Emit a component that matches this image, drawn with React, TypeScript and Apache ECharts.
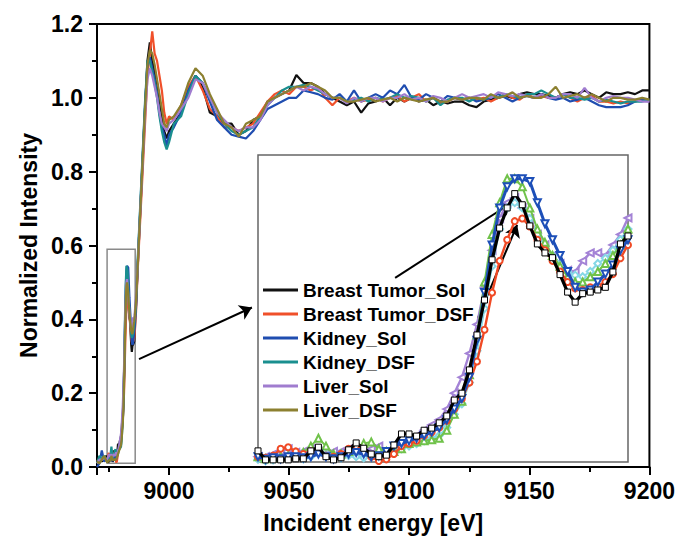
import React, { useEffect, useRef } from "react";
import * as echarts from "echarts";

const FONT = "Liberation Sans, Arial, sans-serif";

const NAMES = ["Breast Tumor_Sol", "Breast Tumor_DSF", "Kidney_Sol", "Kidney_DSF", "Liver_Sol", "Liver_DSF"];
const MAIN_COLORS = ["#111111", "#f0502a", "#1f4db0", "#1a8f8f", "#a07ccf", "#8c8030"];
const INSET_COLORS = ["#000000", "#f04a25", "#1d4fb8", "#70c24a", "#a483d6", "#86d8e6"];

// pre-edge start (eV)
const PRE_E = [8970, 8971, 8972, 8973];
const PRE_BT_SOL = [0.01, 0.02, 0.015, 0.02];
const PRE_BT_DSF = [0.02, 0.015, 0.02, 0.02];
const PRE_K_SOL = [0.0, 0.01, 0.045, 0.015];
const PRE_K_DSF = [0.01, 0.03, 0.02, 0.03];
const PRE_L_SOL = [0.01, 0.02, 0.02, 0.025];
const PRE_L_DSF = [0.015, 0.01, 0.02, 0.03];

// inset (pre-edge feature) energies
const INSET_E = [
  8974, 8974.25, 8974.5, 8974.75, 8975, 8975.25, 8975.5, 8975.75, 8976, 8976.25,
  8976.5, 8976.75, 8977, 8977.25, 8977.5, 8977.75, 8978, 8978.25, 8978.5, 8978.75,
  8979, 8979.25, 8979.5, 8979.75, 8980, 8980.25, 8980.5, 8980.75, 8981, 8981.25,
  8981.5, 8981.75, 8982, 8982.25, 8982.5, 8982.75, 8983, 8983.25, 8983.5, 8983.75,
  8984, 8984.25, 8984.5, 8984.75, 8985, 8985.25, 8985.5, 8985.75, 8986, 8986.25,
];
const IN_BT_SOL = [
  0.031, 0.014, 0.014, 0.014, 0.014, 0.016, 0.016, 0.031, 0.038, 0.02,
  0.014, 0.018, 0.033, 0.046, 0.036, 0.025, 0.02, 0.023, 0.042, 0.063,
  0.063, 0.059, 0.07, 0.074, 0.084, 0.097, 0.127, 0.14, 0.184, 0.25,
  0.316, 0.392, 0.452, 0.49, 0.517, 0.496, 0.456, 0.422, 0.405, 0.396,
  0.364, 0.331, 0.312, 0.328, 0.331, 0.335, 0.34, 0.369, 0.422, 0.437,
];
const IN_BT_DSF = [
  0.02, 0.018, 0.022, 0.035, 0.038, 0.03, 0.025, 0.03, 0.028, 0.022,
  0.02, 0.025, 0.035, 0.04, 0.03, 0.02, 0.012, 0.015, 0.025, 0.04,
  0.045, 0.05, 0.06, 0.066, 0.075, 0.088, 0.11, 0.13, 0.16, 0.2,
  0.26, 0.33, 0.39, 0.43, 0.465, 0.47, 0.455, 0.43, 0.41, 0.39,
  0.37, 0.35, 0.338, 0.335, 0.34, 0.342, 0.35, 0.365, 0.395, 0.42,
];
const IN_K_SOL = [
  0.02, 0.015, 0.018, 0.016, 0.02, 0.02, 0.018, 0.02, 0.025, 0.02,
  0.016, 0.02, 0.025, 0.028, 0.025, 0.02, 0.022, 0.03, 0.04, 0.045,
  0.05, 0.055, 0.06, 0.067, 0.075, 0.09, 0.11, 0.13, 0.17, 0.24,
  0.33, 0.42, 0.49, 0.53, 0.545, 0.545, 0.54, 0.5, 0.46, 0.43,
  0.4, 0.37, 0.34, 0.331, 0.335, 0.35, 0.365, 0.382, 0.41, 0.43,
];
const IN_K_DSF = [
  0.02, 0.016, 0.018, 0.02, 0.022, 0.025, 0.028, 0.04, 0.055, 0.04,
  0.025, 0.025, 0.03, 0.035, 0.045, 0.048, 0.035, 0.03, 0.03, 0.035,
  0.045, 0.048, 0.05, 0.052, 0.055, 0.07, 0.1, 0.125, 0.175, 0.25,
  0.35, 0.44, 0.5, 0.545, 0.545, 0.53, 0.49, 0.45, 0.425, 0.4,
  0.38, 0.36, 0.35, 0.35, 0.36, 0.37, 0.385, 0.4, 0.42, 0.45,
];
const IN_L_SOL = [
  0.02, 0.02, 0.025, 0.03, 0.035, 0.028, 0.03, 0.035, 0.03, 0.025,
  0.03, 0.03, 0.035, 0.03, 0.03, 0.035, 0.04, 0.03, 0.035, 0.045,
  0.05, 0.06, 0.07, 0.08, 0.09, 0.11, 0.14, 0.17, 0.215, 0.27,
  0.34, 0.41, 0.47, 0.5, 0.509, 0.49, 0.47, 0.44, 0.42, 0.4,
  0.385, 0.372, 0.369, 0.39, 0.405, 0.405, 0.4, 0.42, 0.44, 0.471,
];
const IN_L_DSF = [
  0.015, 0.012, 0.014, 0.016, 0.018, 0.02, 0.016, 0.02, 0.03, 0.025,
  0.02, 0.018, 0.022, 0.02, 0.018, 0.02, 0.022, 0.025, 0.03, 0.035,
  0.04, 0.045, 0.05, 0.055, 0.06, 0.075, 0.1, 0.12, 0.16, 0.22,
  0.3, 0.38, 0.45, 0.49, 0.5, 0.49, 0.47, 0.44, 0.42, 0.4,
  0.385, 0.37, 0.363, 0.36, 0.37, 0.385, 0.395, 0.41, 0.43, 0.45,
];

// edge and EXAFS region energies
const MAIN_E = [
  8987, 8988, 8989, 8990, 8991, 8992, 8993, 8994, 8995, 8996, 8997, 8998, 8999, 9000,
  9002, 9005, 9008, 9011, 9014, 9017, 9020, 9023, 9026, 9029,
  9032, 9035, 9038, 9041, 9044, 9047, 9050, 9053, 9056, 9059,
  9062, 9065, 9068, 9071, 9074, 9077, 9080, 9083, 9086, 9089,
  9092, 9095, 9098, 9101, 9104, 9107, 9110, 9113, 9116, 9119,
  9122, 9125, 9128, 9131, 9134, 9137, 9140, 9143, 9146, 9149,
  9152, 9155, 9158, 9161, 9164, 9167, 9170, 9173, 9176, 9179,
  9182, 9185, 9188, 9191, 9194, 9197, 9200,
];
const M_BT_SOL = [
  0.55, 0.69, 0.83, 0.97, 1.1, 1.15, 1.1, 1.07, 1.04, 1.0, 0.95, 0.91, 0.89, 0.91,
  0.93, 0.96, 1.02, 1.06, 1.03, 0.96, 0.95, 0.93, 0.93, 0.9,
  0.91, 0.94, 0.95, 0.99, 1.0, 1.01, 1.02, 1.062, 1.04, 1.04,
  1.03, 1.01, 1.0, 0.99, 0.98, 0.99, 0.96, 0.985, 0.99, 1.0,
  0.98, 1.0, 0.99, 1.0, 0.99, 0.995, 0.98, 0.99, 0.985, 0.99,
  0.99, 0.98, 0.975, 0.99, 0.995, 1.0, 1.005, 1.0, 1.01, 1.015,
  1.01, 1.01, 1.005, 1.0, 1.01, 1.015, 1.01, 1.02, 1.01, 1.0,
  1.015, 1.01, 1.01, 1.015, 1.01, 1.02, 1.02,
];
const M_BT_DSF = [
  0.54, 0.67, 0.8, 0.93, 1.06, 1.12, 1.18, 1.12, 1.1, 1.06, 1.02, 0.96, 0.93, 0.95,
  0.94, 0.98, 1.03, 1.06, 1.02, 0.97, 0.95, 0.92, 0.92, 0.91,
  0.92, 0.93, 0.96, 0.99, 1.01, 1.02, 1.01, 1.03, 1.03, 1.02,
  1.03, 1.0, 0.98, 1.0, 0.99, 1.0, 0.99, 0.995, 1.0, 0.99,
  1.0, 1.005, 0.99, 1.0, 1.01, 0.99, 1.0, 0.985, 0.99, 1.0,
  0.995, 1.0, 0.995, 1.0, 0.99, 1.0, 1.01, 1.0, 0.995, 1.01,
  1.0, 1.005, 1.0, 1.0, 1.01, 1.0, 0.99, 1.0, 1.005, 0.99,
  0.99, 0.985, 0.99, 0.985, 0.99, 0.995, 0.99,
];
const M_K_SOL = [
  0.56, 0.7, 0.84, 0.98, 1.09, 1.11, 1.08, 1.05, 1.01, 0.96, 0.92, 0.9, 0.87, 0.9,
  0.92, 0.96, 1.02, 1.06, 1.04, 0.99, 0.94, 0.92, 0.9, 0.895,
  0.89, 0.91, 0.94, 0.97, 0.98, 0.99, 1.0, 1.0, 1.02, 1.015,
  1.01, 1.0, 0.995, 1.01, 0.99, 1.02, 0.99, 1.0, 1.01, 1.0,
  1.02, 1.01, 1.035, 1.0, 0.995, 1.01, 1.0, 0.99, 1.005, 1.0,
  0.995, 1.0, 0.99, 0.995, 1.0, 1.01, 1.0, 0.99, 1.0, 1.005,
  1.0, 1.01, 1.0, 0.995, 1.0, 0.99, 0.995, 1.0, 0.99, 0.98,
  0.975, 0.975, 0.975, 0.98, 0.99, 0.995, 0.99,
];
const M_K_DSF = [
  0.57, 0.71, 0.85, 0.99, 1.1, 1.1, 1.07, 1.04, 1.0, 0.95, 0.91, 0.88, 0.86, 0.88,
  0.93, 0.95, 1.01, 1.06, 1.04, 1.0, 0.96, 0.93, 0.91, 0.9,
  0.91, 0.92, 0.95, 0.98, 1.0, 1.02, 1.03, 1.03, 1.035, 1.03,
  1.02, 1.01, 1.0, 1.0, 0.99, 0.995, 1.0, 0.99, 1.0, 0.995,
  1.0, 1.01, 1.0, 1.005, 1.0, 0.99, 1.0, 0.98, 0.995, 1.0,
  1.0, 0.99, 1.0, 0.995, 1.005, 1.0, 1.01, 1.005, 1.0, 1.01,
  1.01, 1.02, 1.01, 1.0, 1.01, 1.0, 1.0, 0.995, 1.0, 0.99,
  0.995, 0.99, 0.985, 0.99, 0.99, 0.99, 0.995,
];
const M_L_SOL = [
  0.55, 0.69, 0.82, 0.95, 1.05, 1.08, 1.06, 1.03, 1.0, 0.96, 0.93, 0.92, 0.91, 0.93,
  0.94, 0.97, 1.0, 1.05, 1.04, 1.0, 0.96, 0.94, 0.92, 0.91,
  0.92, 0.92, 0.94, 0.98, 1.0, 1.01, 1.02, 1.03, 1.02, 1.03,
  1.025, 1.01, 1.0, 1.0, 0.985, 1.0, 0.99, 1.0, 1.0, 0.99,
  1.0, 1.0, 1.01, 0.995, 1.0, 0.99, 1.005, 1.0, 0.99, 1.0,
  1.01, 1.0, 1.005, 1.01, 1.0, 1.015, 1.01, 1.005, 1.01, 1.005,
  1.0, 1.01, 1.0, 1.0, 1.01, 1.01, 1.0, 1.027, 1.0, 0.99,
  1.0, 1.005, 1.0, 1.0, 0.995, 0.99, 0.99,
];
const M_L_DSF = [
  0.55, 0.69, 0.83, 0.97, 1.09, 1.13, 1.12, 1.09, 1.05, 1.01, 0.97, 0.93, 0.92, 0.94,
  0.95, 0.98, 1.04, 1.08, 1.06, 1.01, 0.97, 0.93, 0.92, 0.895,
  0.93, 0.94, 0.95, 0.99, 1.0, 1.01, 1.02, 1.03, 1.03, 1.04,
  1.03, 1.02, 1.0, 1.0, 0.99, 0.99, 0.995, 1.0, 0.99, 0.995,
  1.0, 0.99, 1.0, 0.995, 0.99, 0.995, 1.0, 0.99, 0.99, 1.0,
  0.995, 1.0, 1.0, 0.995, 1.01, 1.0, 1.005, 1.015, 1.0, 1.005,
  1.0, 1.0, 1.01, 1.03, 1.0, 1.005, 1.01, 1.0, 1.01, 1.0,
  0.99, 1.0, 1.0, 0.995, 0.995, 1.0, 0.995,
];

const PRE = [PRE_BT_SOL, PRE_BT_DSF, PRE_K_SOL, PRE_K_DSF, PRE_L_SOL, PRE_L_DSF];
const INSET = [IN_BT_SOL, IN_BT_DSF, IN_K_SOL, IN_K_DSF, IN_L_SOL, IN_L_DSF];
const MAIN = [M_BT_SOL, M_BT_DSF, M_K_SOL, M_K_DSF, M_L_SOL, M_L_DSF];

// annotation anchors in data coordinates
const ZOOM_BOX = [[8974.2, 0.01], [8985.9, 0.59]];
const MAIN_ARROW = [[8987.5, 0.292], [9034.5, 0.432]];
const INSET_ARROWS = [
  [[8978.54, 0.358], [8982.41, 0.5]],
  [[8981.28, 0.282], [8982.58, 0.458]],
];

const INSET_SYMBOLS = [
  { symbol: "rect", rotate: 0, size: 6 },
  { symbol: "emptyCircle", rotate: 0, size: 6 },
  { symbol: "emptyTriangle", rotate: 180, size: 7 },
  { symbol: "emptyTriangle", rotate: 0, size: 7 },
  { symbol: "emptyTriangle", rotate: 90, size: 7 },
  { symbol: "emptyDiamond", rotate: 0, size: 7 },
];
const INSET_WIDTHS = [3.2, 2.4, 3, 2, 2.4, 2];
const INSET_ORDER = [4, 5, 3, 1, 2, 0];

function buildOption() {
  const mainSeries = NAMES.map((name, i) => {
    const data = [
      ...PRE_E.map((e, k) => [e, PRE[i][k]]),
      ...INSET_E.map((e, k) => [e, INSET[i][k]]),
      ...MAIN_E.map((e, k) => [e, MAIN[i][k]]),
    ];
    const s: any = {
      name,
      type: "line",
      xAxisIndex: 0,
      yAxisIndex: 0,
      data,
      showSymbol: false,
      color: MAIN_COLORS[i],
      lineStyle: { color: MAIN_COLORS[i], width: 2.2 },
      z: 2 + i,
      silent: true,
    };
    if (i === 0) {
      s.markArea = {
        silent: true,
        itemStyle: { color: "rgba(0,0,0,0)", borderColor: "#8a8a8a", borderWidth: 1.5 },
        label: { show: false },
        data: [[{ coord: ZOOM_BOX[0] }, { coord: ZOOM_BOX[1] }]],
      };
      s.markLine = {
        silent: true,
        symbol: ["none", "arrow"],
        symbolSize: 12,
        label: { show: false },
        lineStyle: { color: "#000", width: 2, type: "solid" },
        data: [[{ coord: MAIN_ARROW[0] }, { coord: MAIN_ARROW[1] }]],
      };
    }
    return s;
  });

  const insetSeries = INSET_ORDER.map((i, order) => {
    const sym = INSET_SYMBOLS[i];
    const s: any = {
      name: "inset_" + NAMES[i],
      type: "line",
      xAxisIndex: 1,
      yAxisIndex: 1,
      data: INSET_E.map((e, k) => [e, INSET[i][k]]),
      showSymbol: true,
      symbol: sym.symbol,
      symbolRotate: sym.rotate,
      symbolSize: sym.size,
      itemStyle:
        i === 0
          ? { color: "#ffffff", borderColor: "#000", borderWidth: 1 }
          : { color: INSET_COLORS[i], borderWidth: 1 },
      lineStyle: { color: INSET_COLORS[i], width: INSET_WIDTHS[i] },
      z: 10 + order,
      silent: true,
    };
    if (i === 0) {
      s.markLine = {
        silent: true,
        symbol: ["none", "arrow"],
        symbolSize: 12,
        label: { show: false },
        lineStyle: { color: "#000", width: 2, type: "solid" },
        data: INSET_ARROWS.map((a) => [{ coord: a[0] }, { coord: a[1] }]),
      };
    }
    return s;
  });

  const axisFont = { fontFamily: FONT, fontWeight: "bold", color: "#000" };

  return {
    animation: false,
    backgroundColor: "#ffffff",
    textStyle: { fontFamily: FONT },
    grid: [
      { left: 97, top: 24, right: 28, bottom: 71, show: true, borderColor: "#000", borderWidth: 2, backgroundColor: "rgba(0,0,0,0)" },
      { left: 258, top: 155, width: 370, height: 307, show: true, borderColor: "#666", borderWidth: 1.5, backgroundColor: "#ffffff" },
    ],
    legend: {
      data: NAMES,
      orient: "vertical",
      left: 263,
      top: 280,
      padding: 0,
      itemGap: 4,
      itemWidth: 35,
      itemHeight: 3,
      icon: "rect",
      selectedMode: false,
      textStyle: { ...axisFont, fontSize: 19, lineHeight: 20 },
    },
    xAxis: [
      {
        gridIndex: 0,
        type: "value",
        min: 8970,
        max: 9200,
        splitNumber: 5,
        axisLine: { show: true, lineStyle: { color: "#000", width: 2 } },
        axisTick: { show: true, inside: false, length: 8, lineStyle: { color: "#000", width: 2 } },
        minorTick: { show: true, splitNumber: 2, length: 5, lineStyle: { color: "#000", width: 2 } },
        splitLine: { show: false },
        axisLabel: { ...axisFont, fontSize: 23, margin: 12, showMinLabel: false, formatter: (v: number) => String(Math.round(v)) },
        name: "Incident energy [eV]",
        nameLocation: "middle",
        nameGap: 44,
        nameTextStyle: { ...axisFont, fontSize: 23 },
      },
      { gridIndex: 1, type: "value", min: 8974, max: 8986.25, show: false, splitLine: { show: false } },
    ],
    yAxis: [
      {
        gridIndex: 0,
        type: "value",
        min: 0,
        max: 1.2,
        interval: 0.2,
        axisLine: { show: true, lineStyle: { color: "#000", width: 2 } },
        axisTick: { show: true, inside: false, length: 8, lineStyle: { color: "#000", width: 2 } },
        minorTick: { show: true, splitNumber: 2, length: 5, lineStyle: { color: "#000", width: 2 } },
        splitLine: { show: false },
        axisLabel: { ...axisFont, fontSize: 23, margin: 14, formatter: (v: number) => v.toFixed(1) },
        name: "Normalized Intensity",
        nameLocation: "middle",
        nameGap: 57,
        nameTextStyle: { ...axisFont, fontSize: 23 },
      },
      { gridIndex: 1, type: "value", min: 0.01, max: 0.59, show: false, splitLine: { show: false } },
    ],
    series: [...mainSeries, ...insetSeries],
  };
}

export default function App() {
  const ref = useRef<HTMLDivElement>(null);
  useEffect(() => {
    if (!ref.current) return;
    const chart = echarts.init(ref.current, null, { renderer: "svg" });
    chart.setOption(buildOption() as any);
    return () => chart.dispose();
  }, []);
  return (
    <div
      ref={ref}
      style={{ position: "fixed", left: 0, top: 0, width: 678, height: 539, background: "#fff" }}
    />
  );
}
